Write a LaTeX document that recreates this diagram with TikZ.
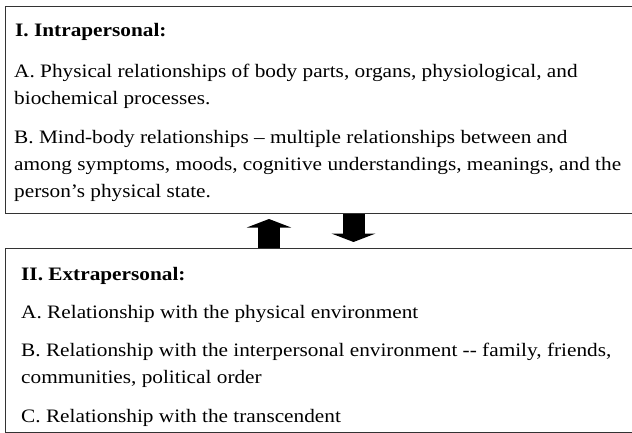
\documentclass[tikz,border=0pt]{standalone}
\usepackage{fontspec}
\setmainfont{Liberation Serif}[FakeStretch=1.12]
\usetikzlibrary{arrows.meta,positioning}

\begin{document}
\begin{tikzpicture}[%
    x=1pt, y=-1pt,              % Work in pixels, top-down
    ]
% -------------------------------------------------
% A few styles
% base west sits on the last line of a node
\tikzset{
  box/.style={draw=black!80, line width=0.9pt},
  txt/.style={anchor=base west, inner sep=0pt, align=left,
    font=\fontsize{19}{27}\selectfont},
  head/.style={txt, font=\fontsize{19}{27}\selectfont\bfseries},
  block/.style={line width=22pt, -{Triangle[length=8.5pt,width=44pt]}}
}
% -------------------------------------------------
\useasboundingbox (0,0) rectangle (632,433);
\clip (0,0) rectangle (632,433);

% The two boxes
\node [box, anchor=north west, minimum width=660pt, minimum height=207pt,
  inner sep=0pt] (intra) at (5,6) {};
\node [box, anchor=north west, minimum width=660pt, minimum height=184pt,
  inner sep=0pt] (extra) at (5,248) {};

% Text of the upper box
\node [head] (t1) at (15,37) {I. Intrapersonal:};
\node [txt] (a1) at (14,105) {A. Physical relationships of body parts, organs, physiological, and\\
biochemical processes.};
\node [txt] (b1) at (14,197) {B. Mind-body relationships -- multiple relationships between and\\
among symptoms, moods, cognitive understandings, meanings, and the\\
person's physical state.};

% Text of the lower box
\node [head] (t2) at (21,280) {II. Extrapersonal:};
\node [txt] (a2) at (21,318) {A. Relationship with the physical environment};
\node [txt] (b2) at (21,383) {B. Relationship with the interpersonal environment {-}{-} family, friends,\\
communities, political order};
\node [txt] (c2) at (21,422) {C. Relationship with the transcendent};

% Block arrows between the boxes
\coordinate (up) at (269,219);
\coordinate (down) at (353.5,242);
\draw[block] (up |- extra.north) -- (up);		%Extrapersonal to Intrapersonal
\draw[block] (down |- intra.south) -- (down);	%Intrapersonal to Extrapersonal

% -------------------------------------------------
\end{tikzpicture}
\end{document}
